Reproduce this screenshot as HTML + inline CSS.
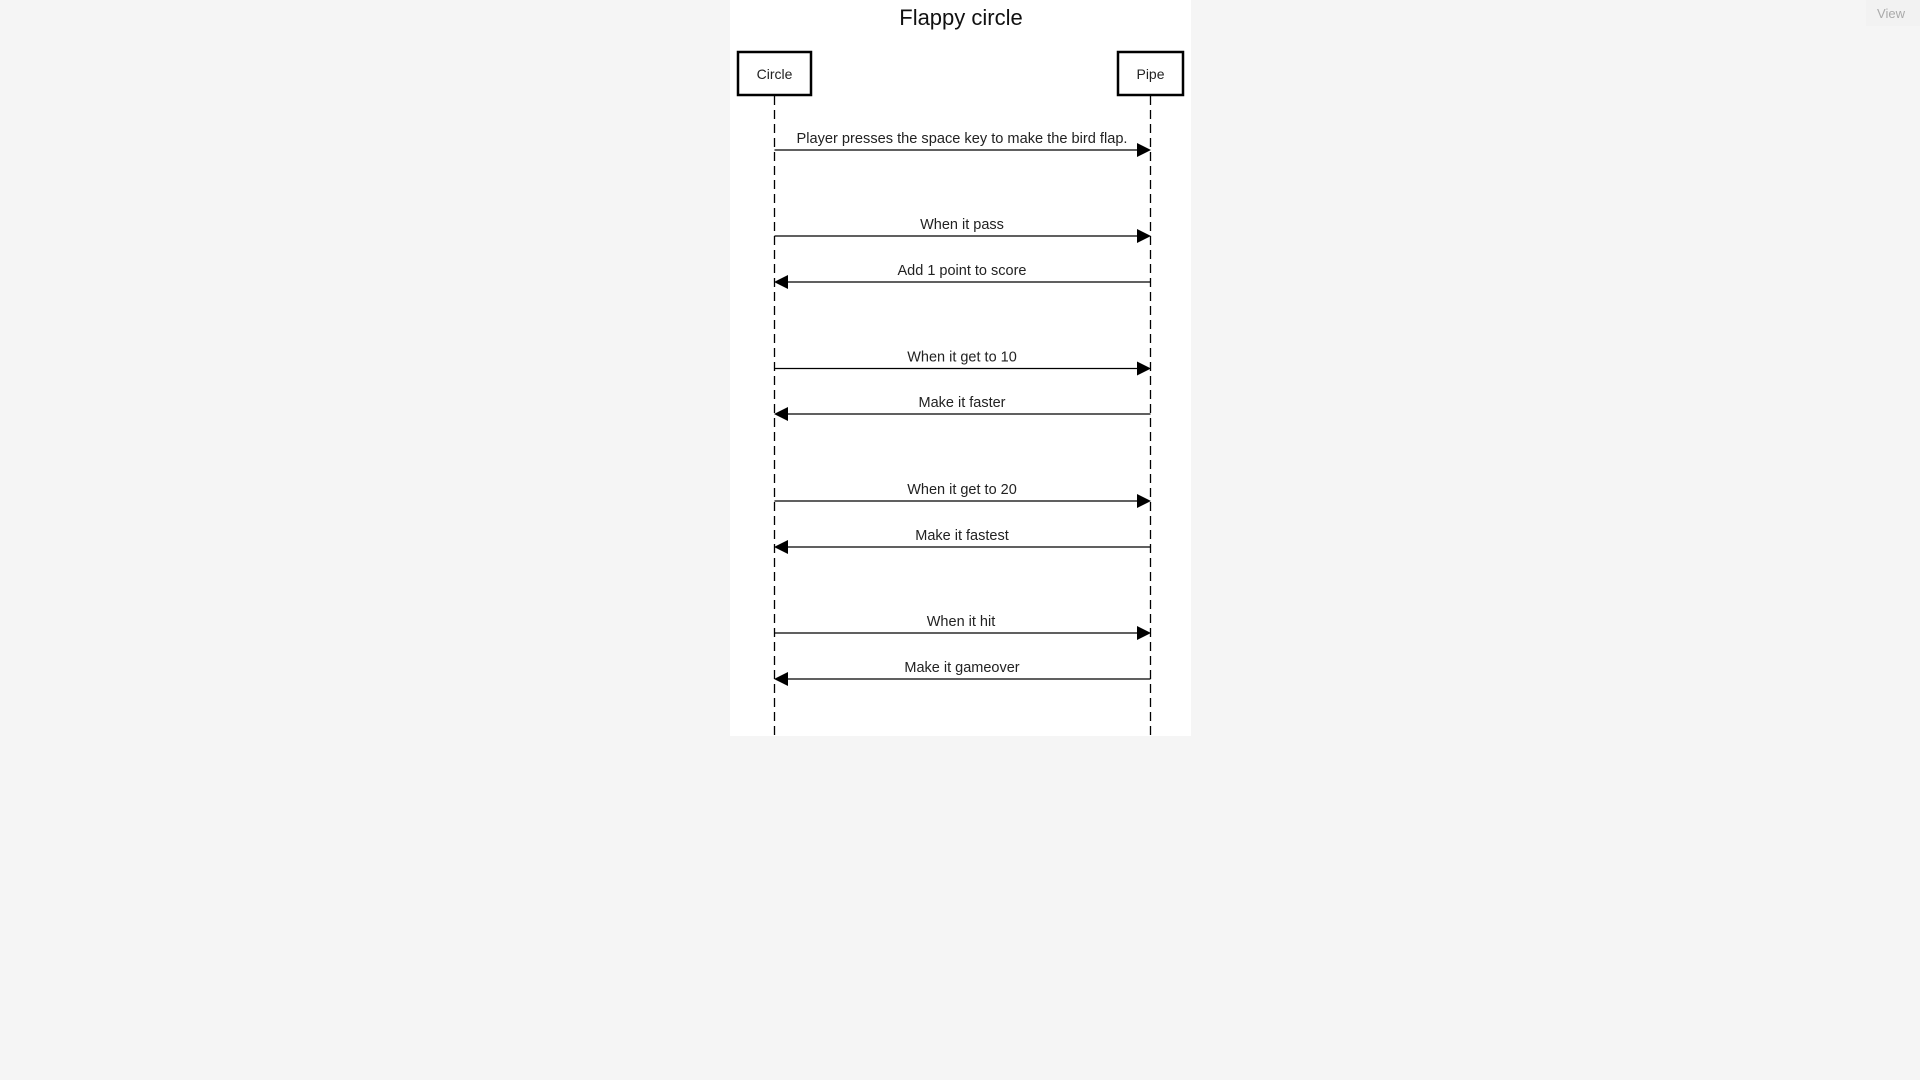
<!DOCTYPE html>
<html><head><meta charset="utf-8"><style>
html,body{margin:0;padding:0;background:#f5f5f5;width:1920px;height:1080px;overflow:hidden}
</style></head><body>
<svg width="1920" height="1080" xmlns="http://www.w3.org/2000/svg" style="position:absolute;left:0;top:0;font-family:'Liberation Sans',Arial,sans-serif">
<rect x="1866" y="0" width="54" height="26" fill="#f2f2f2"/>
<text x="1891" y="18" font-size="13" fill="#aaa" text-anchor="middle">View</text>
<rect x="730" y="0" width="461" height="736" fill="#fff"/>
<text x="961" y="25" font-size="22" fill="#111" text-anchor="middle">Flappy circle</text>
<rect x="738" y="52" width="73" height="43" fill="#fff" stroke="#000" stroke-width="2.5"/>
<text x="774.5" y="79" font-size="14" fill="#222" text-anchor="middle">Circle</text>
<rect x="1118" y="52" width="65" height="43" fill="#fff" stroke="#000" stroke-width="2.5"/>
<text x="1150.5" y="79" font-size="14" fill="#222" text-anchor="middle">Pipe</text>
<g stroke="#000" stroke-width="1.3" stroke-dasharray="9,5">
<line x1="774.5" y1="96" x2="774.5" y2="736"/>
<line x1="1150.5" y1="96" x2="1150.5" y2="736"/>
</g>
<g stroke="#000" stroke-width="1.3">
<line x1="774.5" y1="150" x2="1140" y2="150"/>
<line x1="774.5" y1="236" x2="1140" y2="236"/>
<line x1="785" y1="282" x2="1150.5" y2="282"/>
<line x1="774.5" y1="368.5" x2="1140" y2="368.5"/>
<line x1="785" y1="414" x2="1150.5" y2="414"/>
<line x1="774.5" y1="501" x2="1140" y2="501"/>
<line x1="785" y1="547" x2="1150.5" y2="547"/>
<line x1="774.5" y1="633" x2="1140" y2="633"/>
<line x1="785" y1="679" x2="1150.5" y2="679"/>
</g>
<g fill="#000">
<polygon points="1137,143 1151,150 1137,157"/>
<polygon points="1137,229 1151,236 1137,243"/>
<polygon points="788,275 774,282 788,289"/>
<polygon points="1137,361.5 1151,368.5 1137,375.5"/>
<polygon points="788,407 774,414 788,421"/>
<polygon points="1137,494 1151,501 1137,508"/>
<polygon points="788,540 774,547 788,554"/>
<polygon points="1137,626 1151,633 1137,640"/>
<polygon points="788,672 774,679 788,686"/>
</g>
<g font-size="14.5" fill="#222" text-anchor="middle">
<text x="962" y="143" textLength="331" lengthAdjust="spacingAndGlyphs">Player presses the space key to make the bird flap.</text>
<text x="962" y="229">When it pass</text>
<text x="962" y="275">Add 1 point to score</text>
<text x="962" y="361.5">When it get to 10</text>
<text x="962" y="407">Make it faster</text>
<text x="962" y="494">When it get to 20</text>
<text x="962" y="540">Make it fastest</text>
<text x="961" y="626">When it hit</text>
<text x="962" y="672">Make it gameover</text>
</g>
</svg>
</body></html>
